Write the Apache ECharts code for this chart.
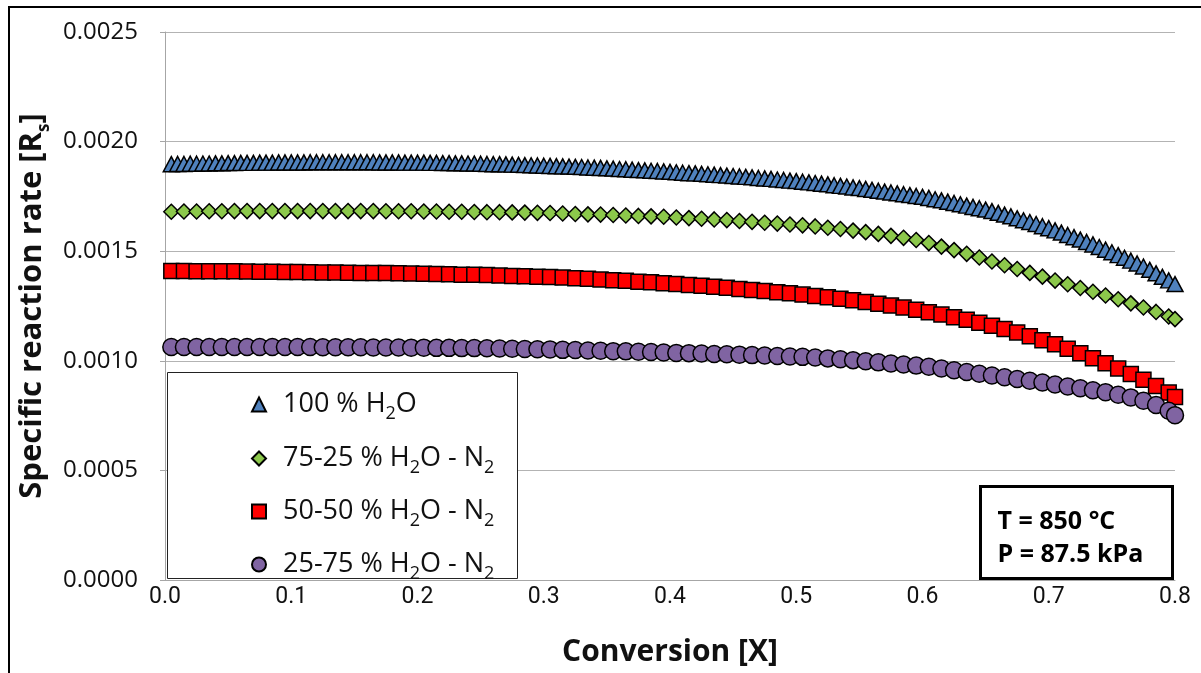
<!DOCTYPE html>
<html>
<head>
<meta charset="utf-8">
<title>Specific reaction rate vs conversion</title>
<script src="https://cdn.jsdelivr.net/npm/echarts@6/dist/echarts.min.js"></script>
<style>
  html, body { margin: 0; padding: 0; background: #fff; }
  #chart { width: 1201px; height: 673px; }
</style>
</head>
<body>
<div id="chart"></div>
<script>
// conversion X for the 100 % H2O run (sampled more densely)
var convFine = [
  0.005, 0.010, 0.015, 0.020, 0.025, 0.030, 0.035, 0.040, 0.045, 0.050,
  0.055, 0.060, 0.065, 0.070, 0.075, 0.080, 0.085, 0.090, 0.095, 0.100,
  0.105, 0.110, 0.115, 0.120, 0.125, 0.130, 0.135, 0.140, 0.145, 0.150,
  0.155, 0.160, 0.165, 0.170, 0.175, 0.180, 0.185, 0.190, 0.195, 0.200,
  0.205, 0.210, 0.215, 0.220, 0.225, 0.230, 0.235, 0.240, 0.245, 0.250,
  0.255, 0.260, 0.265, 0.270, 0.275, 0.280, 0.285, 0.290, 0.295, 0.300,
  0.305, 0.310, 0.315, 0.320, 0.325, 0.330, 0.335, 0.340, 0.345, 0.350,
  0.355, 0.360, 0.365, 0.370, 0.375, 0.380, 0.385, 0.390, 0.395, 0.400,
  0.405, 0.410, 0.415, 0.420, 0.425, 0.430, 0.435, 0.440, 0.445, 0.450,
  0.455, 0.460, 0.465, 0.470, 0.475, 0.480, 0.485, 0.490, 0.495, 0.500,
  0.505, 0.510, 0.515, 0.520, 0.525, 0.530, 0.535, 0.540, 0.545, 0.550,
  0.555, 0.560, 0.565, 0.570, 0.575, 0.580, 0.585, 0.590, 0.595, 0.600,
  0.605, 0.610, 0.615, 0.620, 0.625, 0.630, 0.635, 0.640, 0.645, 0.650,
  0.655, 0.660, 0.665, 0.670, 0.675, 0.680, 0.685, 0.690, 0.695, 0.700,
  0.705, 0.710, 0.715, 0.720, 0.725, 0.730, 0.735, 0.740, 0.745, 0.750,
  0.755, 0.760, 0.765, 0.770, 0.775, 0.780, 0.785, 0.790, 0.795, 0.800
];

// conversion X for the diluted runs
var convCoarse = [
  0.005, 0.015, 0.025, 0.035, 0.045, 0.055, 0.065, 0.075, 0.085, 0.095,
  0.105, 0.115, 0.125, 0.135, 0.145, 0.155, 0.165, 0.175, 0.185, 0.195,
  0.205, 0.215, 0.225, 0.235, 0.245, 0.255, 0.265, 0.275, 0.285, 0.295,
  0.305, 0.315, 0.325, 0.335, 0.345, 0.355, 0.365, 0.375, 0.385, 0.395,
  0.405, 0.415, 0.425, 0.435, 0.445, 0.455, 0.465, 0.475, 0.485, 0.495,
  0.505, 0.515, 0.525, 0.535, 0.545, 0.555, 0.565, 0.575, 0.585, 0.595,
  0.605, 0.615, 0.625, 0.635, 0.645, 0.655, 0.665, 0.675, 0.685, 0.695,
  0.705, 0.715, 0.725, 0.735, 0.745, 0.755, 0.765, 0.775, 0.785, 0.795,
  0.800
];

// 100 % H2O
var rate100 = [
  0.001897, 0.001898, 0.001898, 0.001899, 0.001899, 0.001900, 0.001900, 0.001901, 0.001901, 0.001902,
  0.001902, 0.001903, 0.001903, 0.001903, 0.001904, 0.001904, 0.001904, 0.001905, 0.001905, 0.001905,
  0.001905, 0.001905, 0.001906, 0.001906, 0.001906, 0.001906, 0.001906, 0.001906, 0.001906, 0.001906,
  0.001906, 0.001906, 0.001906, 0.001905, 0.001905, 0.001905, 0.001905, 0.001904, 0.001904, 0.001904,
  0.001904, 0.001903, 0.001903, 0.001902, 0.001902, 0.001901, 0.001901, 0.001900, 0.001900, 0.001899,
  0.001898, 0.001897, 0.001897, 0.001896, 0.001895, 0.001894, 0.001893, 0.001892, 0.001891, 0.001890,
  0.001889, 0.001888, 0.001887, 0.001886, 0.001885, 0.001884, 0.001882, 0.001881, 0.001880, 0.001878,
  0.001877, 0.001875, 0.001874, 0.001872, 0.001870, 0.001869, 0.001867, 0.001866, 0.001864, 0.001862,
  0.001860, 0.001858, 0.001856, 0.001855, 0.001853, 0.001851, 0.001849, 0.001847, 0.001845, 0.001843,
  0.001841, 0.001839, 0.001837, 0.001834, 0.001832, 0.001830, 0.001827, 0.001825, 0.001822, 0.001820,
  0.001817, 0.001814, 0.001811, 0.001808, 0.001805, 0.001801, 0.001798, 0.001795, 0.001791, 0.001788,
  0.001784, 0.001780, 0.001776, 0.001772, 0.001768, 0.001764, 0.001760, 0.001756, 0.001752, 0.001748,
  0.001743, 0.001737, 0.001732, 0.001726, 0.001720, 0.001714, 0.001708, 0.001702, 0.001696, 0.001690,
  0.001683, 0.001675, 0.001667, 0.001659, 0.001650, 0.001641, 0.001633, 0.001624, 0.001614, 0.001605,
  0.001595, 0.001585, 0.001574, 0.001564, 0.001553, 0.001542, 0.001531, 0.001519, 0.001507, 0.001495,
  0.001482, 0.001470, 0.001457, 0.001444, 0.001430, 0.001415, 0.001399, 0.001383, 0.001367, 0.001350
];

// 75-25 % H2O - N2
var rate75 = [
  0.001680, 0.001681, 0.001681, 0.001682, 0.001682, 0.001683, 0.001683, 0.001683, 0.001683, 0.001683,
  0.001683, 0.001683, 0.001683, 0.001683, 0.001683, 0.001683, 0.001683, 0.001682, 0.001682, 0.001682,
  0.001681, 0.001681, 0.001680, 0.001680, 0.001679, 0.001678, 0.001678, 0.001677, 0.001676, 0.001675,
  0.001674, 0.001672, 0.001670, 0.001668, 0.001667, 0.001665, 0.001663, 0.001661, 0.001659, 0.001657,
  0.001654, 0.001651, 0.001648, 0.001645, 0.001642, 0.001638, 0.001634, 0.001630, 0.001626, 0.001622,
  0.001618, 0.001613, 0.001607, 0.001601, 0.001594, 0.001587, 0.001579, 0.001570, 0.001561, 0.001551,
  0.001537, 0.001521, 0.001505, 0.001488, 0.001471, 0.001453, 0.001436, 0.001419, 0.001401, 0.001384,
  0.001366, 0.001349, 0.001332, 0.001315, 0.001298, 0.001281, 0.001262, 0.001243, 0.001223, 0.001202,
  0.001190
];

// 50-50 % H2O - N2
var rate50 = [
  0.001410, 0.001410, 0.001409, 0.001409, 0.001408, 0.001408, 0.001407, 0.001406, 0.001406, 0.001405,
  0.001405, 0.001404, 0.001403, 0.001403, 0.001402, 0.001401, 0.001400, 0.001400, 0.001399, 0.001398,
  0.001397, 0.001396, 0.001395, 0.001393, 0.001392, 0.001391, 0.001389, 0.001387, 0.001386, 0.001384,
  0.001382, 0.001380, 0.001377, 0.001374, 0.001371, 0.001368, 0.001365, 0.001361, 0.001358, 0.001354,
  0.001350, 0.001346, 0.001342, 0.001338, 0.001333, 0.001328, 0.001323, 0.001318, 0.001313, 0.001308,
  0.001302, 0.001296, 0.001290, 0.001283, 0.001276, 0.001268, 0.001260, 0.001252, 0.001243, 0.001233,
  0.001222, 0.001211, 0.001199, 0.001187, 0.001174, 0.001160, 0.001145, 0.001129, 0.001112, 0.001094,
  0.001075, 0.001055, 0.001034, 0.001012, 0.000989, 0.000965, 0.000940, 0.000914, 0.000885, 0.000855,
  0.000835
];

// 25-75 % H2O - N2
var rate25 = [
  0.001063, 0.001063, 0.001063, 0.001063, 0.001063, 0.001063, 0.001063, 0.001063, 0.001063, 0.001063,
  0.001063, 0.001063, 0.001062, 0.001062, 0.001062, 0.001062, 0.001061, 0.001061, 0.001061, 0.001060,
  0.001060, 0.001059, 0.001059, 0.001058, 0.001058, 0.001057, 0.001056, 0.001055, 0.001054, 0.001053,
  0.001052, 0.001050, 0.001049, 0.001047, 0.001046, 0.001044, 0.001043, 0.001041, 0.001040, 0.001038,
  0.001036, 0.001035, 0.001033, 0.001031, 0.001030, 0.001028, 0.001026, 0.001024, 0.001022, 0.001020,
  0.001018, 0.001015, 0.001011, 0.001007, 0.001003, 0.000998, 0.000993, 0.000988, 0.000983, 0.000978,
  0.000973, 0.000965, 0.000957, 0.000949, 0.000941, 0.000933, 0.000925, 0.000917, 0.000909, 0.000901,
  0.000892, 0.000883, 0.000875, 0.000866, 0.000857, 0.000845, 0.000833, 0.000818, 0.000798, 0.000772,
  0.000752
];

var seriesNames = ['100 % H2O', '75-25 % H2O - N2', '50-50 % H2O - N2', '25-75 % H2O - N2'];
var legendLabels = [
  '100 % H{sub|2}O',
  '75-25 % H{sub|2}O - N{sub|2}',
  '50-50 % H{sub|2}O - N{sub|2}',
  '25-75 % H{sub|2}O - N{sub|2}'
];
var conditionLines = ['T = 850 °C', 'P = 87.5 kPa'];

// axis ranges / ticks
var xMin = 0, xMax = 0.8, xStep = 0.1;
var yMin = 0, yMax = 0.0025, yStep = 0.0005;

function pairUp(xs, ys) {
  return xs.map(function (x, i) { return [x, ys[i]]; });
}

var subRich = {
  sub: { fontSize: 18, lineHeight: 37, verticalAlign: 'bottom', fontFamily: 'Open Sans', color: '#111' }
};

var chart = echarts.init(document.getElementById('chart'));

var legendTops = [381, 435, 488, 541];
var legends = seriesNames.map(function (name, i) {
  return {
    data: [name],
    left: 246,
    top: legendTops[i],
    itemWidth: 14,
    itemHeight: 14,
    selectedMode: false,
    formatter: function () { return legendLabels[i]; },
    textStyle: {
      color: '#111',
      fontFamily: 'Open Sans',
      fontSize: 27,
      lineHeight: 30,
      padding: [0, 0, 0, 12],
      rich: subRich
    }
  };
});

var marker = function (symbol, size, color) {
  return {
    type: 'scatter',
    symbol: symbol,
    symbolSize: size,
    itemStyle: { color: color, borderColor: '#000', borderWidth: 1.5, opacity: 1 }
  };
};

var s1 = marker('triangle', [16, 15], '#4f81bd');
s1.name = seriesNames[0];
s1.data = pairUp(convFine, rate100);
var s2 = marker('diamond', [15, 15], '#8cc84b');
s2.name = seriesNames[1];
s2.data = pairUp(convCoarse, rate75);
var s3 = marker('rect', [15, 15], '#ff0000');
s3.name = seriesNames[2];
s3.data = pairUp(convCoarse, rate50);
var s4 = marker('circle', 17, '#8064a2');
s4.name = seriesNames[3];
s4.data = pairUp(convCoarse, rate25);

chart.setOption({
  animation: false,
  backgroundColor: '#fff',
  grid: { left: 165, right: 26, top: 32, bottom: 93 },
  legend: legends,
  xAxis: {
    type: 'value',
    min: xMin,
    max: xMax,
    interval: xStep,
    name: 'Conversion [X]',
    nameLocation: 'middle',
    nameGap: 57,
    nameTextStyle: { color: '#111', fontFamily: 'Open Sans', fontWeight: 'bold', fontSize: 30 },
    axisLine: { show: true, lineStyle: { color: '#a6a6a6', width: 1 } },
    axisTick: { show: false },
    splitLine: { show: false },
    axisLabel: {
      color: '#111',
      fontFamily: "'Liberation Sans Narrow', Roboto",
      fontSize: 23,
      margin: 6,
      formatter: function (v) { return v.toFixed(1); }
    }
  },
  yAxis: {
    type: 'value',
    min: yMin,
    max: yMax,
    interval: yStep,
    name: 'Specific reaction rate [R{s|s}]',
    nameLocation: 'middle',
    nameGap: 98,
    nameRotate: 90,
    nameTextStyle: {
      color: '#111',
      fontFamily: 'Open Sans',
      fontWeight: 'bold',
      fontSize: 31,
      rich: {
        s: { fontSize: 17, fontWeight: 'bold', fontFamily: 'Open Sans', verticalAlign: 'bottom', lineHeight: 40, color: '#111' }
      }
    },
    axisLine: { show: true, lineStyle: { color: '#a6a6a6', width: 1 } },
    axisTick: { show: true, length: 5, lineStyle: { color: '#a6a6a6' } },
    splitLine: { show: true, lineStyle: { color: '#b3b3b3', width: 1 } },
    axisLabel: {
      color: '#111',
      fontFamily: 'Open Sans',
      fontSize: 24,
      margin: 27,
      formatter: function (v) { return v.toFixed(4); }
    }
  },
  graphic: [
    {
      // outer frame of the figure
      type: 'rect',
      silent: true,
      z: 0,
      shape: { x: 9, y: 7, width: 1250, height: 700 },
      style: { fill: 'none', stroke: '#000', lineWidth: 2 }
    },
    {
      // legend box
      type: 'rect',
      silent: true,
      z: 1,
      shape: { x: 167.5, y: 372.5, width: 350, height: 206 },
      style: { fill: '#fff', stroke: '#222', lineWidth: 1 }
    },
    {
      type: 'group',
      left: 979,
      top: 485,
      z: 5,
      children: [
        {
          type: 'rect',
          shape: { x: 0, y: 0, width: 192, height: 92 },
          style: { fill: '#fff', stroke: '#000', lineWidth: 3 }
        },
        {
          type: 'text',
          x: 17, y: 35,
          style: {
            text: conditionLines[0], fill: '#000', font: 'bold 25px "Open Sans"',
            textVerticalAlign: 'middle'
          }
        },
        {
          type: 'text',
          x: 17, y: 68,
          style: {
            text: conditionLines[1], fill: '#000', font: 'bold 25px "Open Sans"',
            textVerticalAlign: 'middle'
          }
        }
      ]
    }
  ],
  series: [s1, s2, s3, s4]
});
</script>
</body>
</html>
